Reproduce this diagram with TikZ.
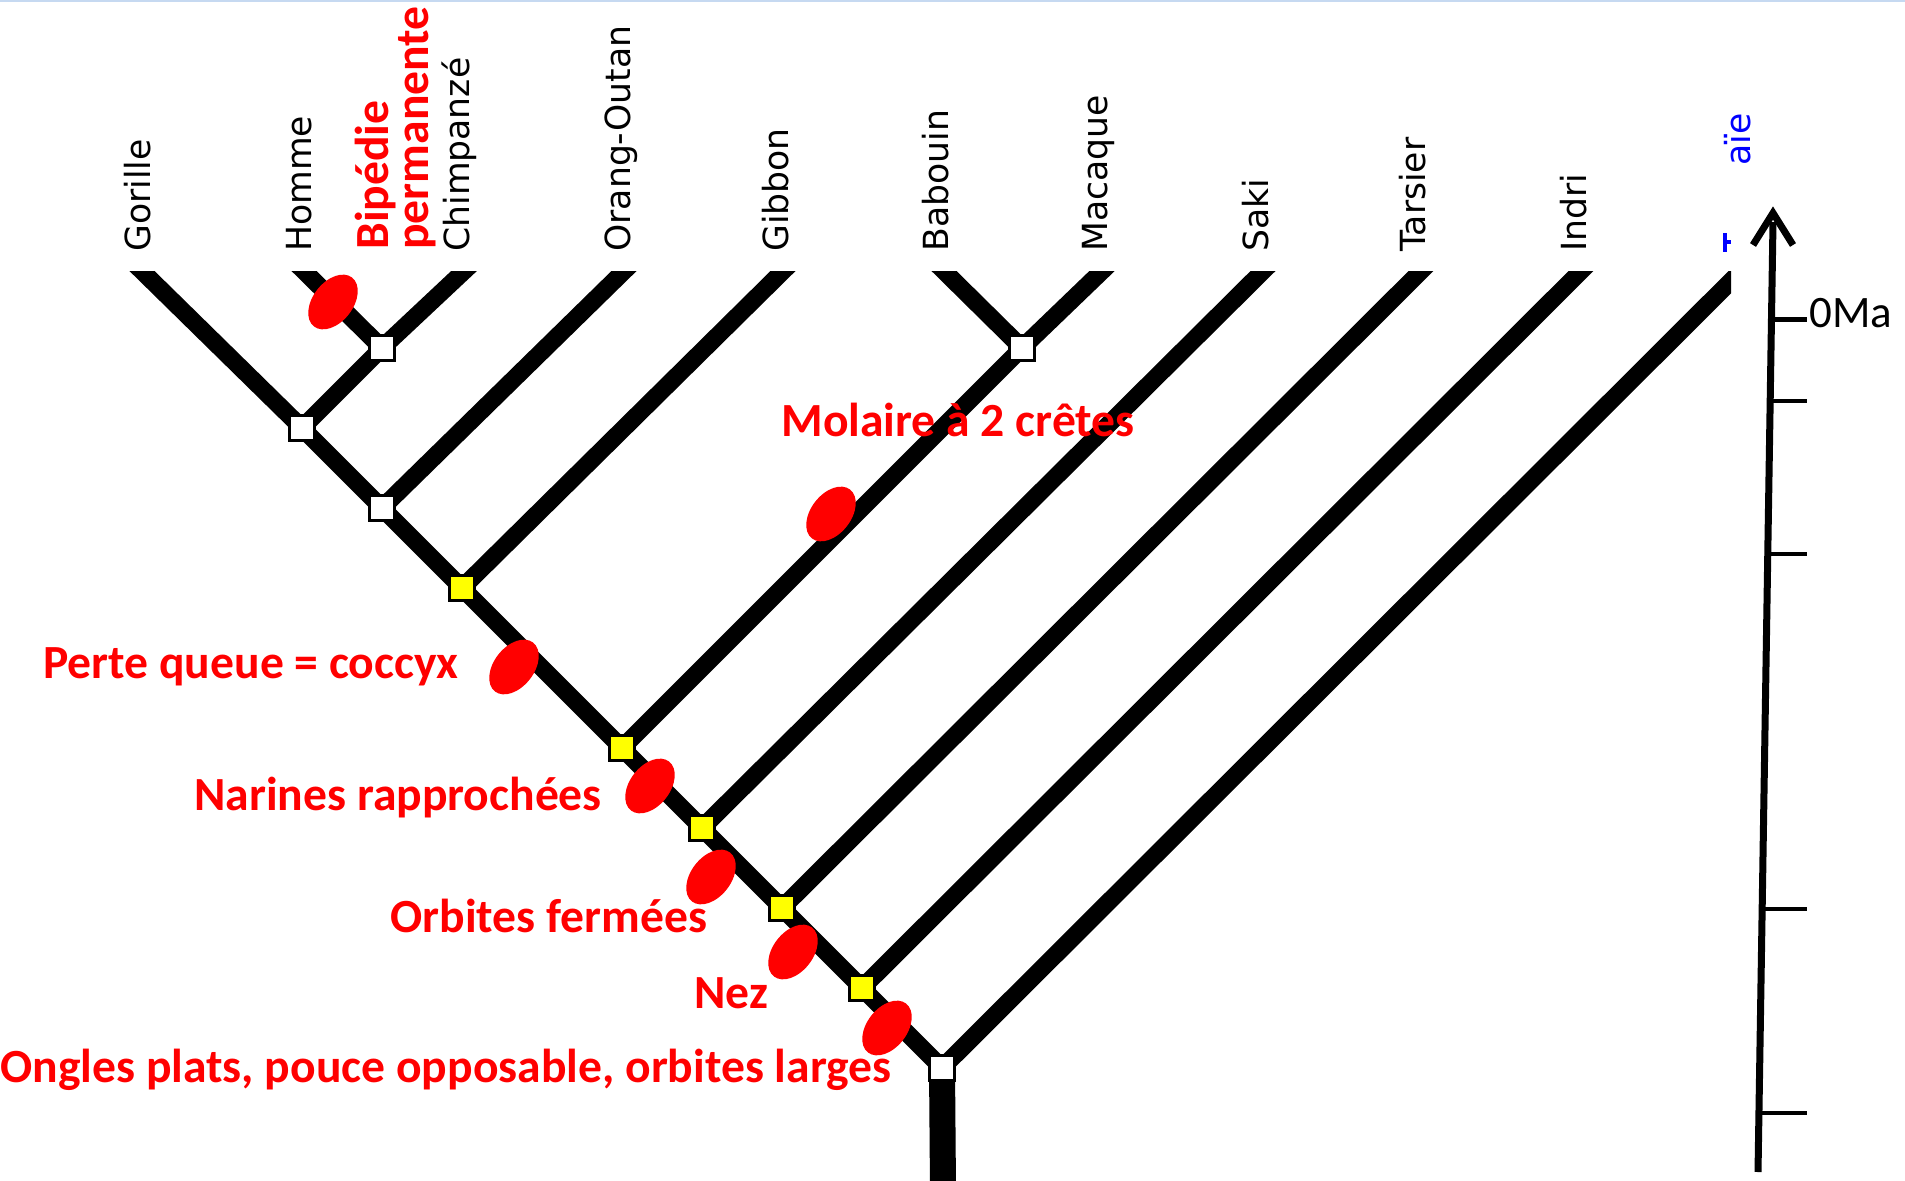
\documentclass[tikz,border=0pt]{standalone}
\usepackage{fontspec}
\newfontfamily\notefont{Carlito}
\newfontfamily\taxonfont{DejaVu Sans}
\usetikzlibrary{shapes.geometric,calc}

\definecolor{mark}{RGB}{255,0,0}
\definecolor{hilite}{RGB}{255,255,0}
\definecolor{rulecol}{RGB}{198,217,241}
\definecolor{extinct}{RGB}{0,0,255}

\begin{document}
\begin{tikzpicture}[x=0.5pt,y=-0.5pt,
  branch/.style={line width=8.8pt, black, line join=miter},
  knot/.style={rectangle, draw=black, line width=1.8pt, fill=white, minimum size=12.5pt, inner sep=0pt},
  yknot/.style={knot, fill=hilite},
  trait/.style={ellipse, fill=mark, inner sep=0pt, minimum width=31pt, minimum height=20pt, rotate=52},
  note/.style={font=\notefont\bfseries\fontsize{23.8}{24}\selectfont, text=mark, inner sep=0pt, anchor=base west},
  taxon/.style={font=\taxonfont\fontsize{17.3}{18}\selectfont, rotate=90, anchor=mid west, inner sep=0pt},
  tickline/.style={line width=2.2pt},
]
\useasboundingbox (0,0) rectangle (1905,1181);

% thin rule along the top edge
\fill[rulecol] (0,0) rectangle (1905,2.5);

% junctions of the tree
\coordinate (R)  at (942,1068);
\coordinate (In) at (862,988);
\coordinate (Ta) at (782,908);
\coordinate (Sa) at (702,828);
\coordinate (OW) at (622,748);
\coordinate (Gi) at (462,588);
\coordinate (Or) at (382,508);
\coordinate (Go) at (302,428);
\coordinate (HC) at (382,348);
\coordinate (BM) at (1022,348);
\coordinate (base) at (943,1190);

% leaf ends
\coordinate (tGor) at (143,272);
\coordinate (tHom) at (305,272);
\coordinate (tChi) at (463,272);
\coordinate (tOra) at (623,272);
\coordinate (tGib) at (782,272);
\coordinate (tBab) at (945,272);
\coordinate (tMac) at (1101,272);
\coordinate (tSak) at (1262,272);
\coordinate (tTar) at (1420,272);
\coordinate (tInd) at (1580,272);
\coordinate (tAie) at (1740,272);

% branches, cut flat at the top
\begin{scope}
  \clip (0,272) rectangle (1731,1181);
  \draw[branch, shorten >=-12pt] (R) -- (In) -- (Ta) -- (Sa) -- (OW) -- (Gi) -- (Or) -- (Go) -- (tGor);
  \draw[branch, shorten >=-12pt] (R) -- (tAie);
  \draw[branch, shorten >=-12pt] (In) -- (tInd);
  \draw[branch, shorten >=-12pt] (Ta) -- (tTar);
  \draw[branch, shorten >=-12pt] (Sa) -- (tSak);
  \draw[branch, shorten >=-12pt] (OW) -- (BM) -- (tMac);
  \draw[branch, shorten >=-12pt] (BM) -- (tBab);
  \draw[branch, shorten >=-12pt] (Gi) -- (tGib);
  \draw[branch, shorten >=-12pt] (Or) -- (tOra);
  \draw[branch, shorten >=-12pt] (Go) -- (HC) -- (tChi);
  \draw[branch, shorten >=-12pt] (HC) -- (tHom);
\end{scope}

% stem below the root
\draw[line width=13pt] (R) -- (base);

% node squares
\node[knot]  (nR)  at (R)  {};
\node[yknot] (nIn) at (In) {};
\node[yknot] (nTa) at (Ta) {};
\node[yknot] (nSa) at (Sa) {};
\node[yknot] (nOW) at (OW) {};
\node[yknot] (nGi) at (Gi) {};
\node[knot]  (nOr) at (Or) {};
\node[knot]  (nGo) at (Go) {};
\node[knot]  (nHC) at (HC) {};
\node[knot]  (nBM) at (BM) {};

% derived characters
\node[trait] (eHom) at (333,302)  {};
\node[trait] (eMol) at (831,514)  {};
\node[trait] (eQue) at (514,667)  {};
\node[trait] (eNar) at (650,786)  {};
\node[trait] (eOrb) at (711,877)  {};
\node[trait] (eNez) at (793,952)  {};
\node[trait] (eOng) at (887,1028) {};

% character names
\node[note] (lMol) at (781,437)  {Molaire à 2 crêtes};
\node[note] (lQue) at (43,678)   {Perte queue = coccyx};
\node[note] (lNar) at (194,810)  {Narines rapprochées};
\node[note] (lOrb) at (390,932)  {Orbites fermées};
\node[note] (lNez) at (694,1008) {Nez};
\node[note] (lOng) at (0,1082)   {Ongles plats, pouce opposable, orbites larges};
\node[font=\notefont\bfseries\fontsize{23.8}{16.5}\selectfont, text=mark, rotate=90,
      anchor=north west, align=left, inner sep=0pt] (lBip) at (355,250) {Bipédie\\permanente};

% taxa
\node[taxon] (sGor) at (146,252)  {Gorille};
\node[taxon] (sHom) at (307,252)  {Homme};
\node[taxon] (sChi) at (465,252)  {Chimpanzé};
\node[taxon] (sOra) at (626,252)  {Orang-Outan};
\node[taxon] (sGib) at (784,252)  {Gibbon};
\node[taxon] (sBab) at (944,252)  {Babouin};
\node[taxon] (sMac) at (1103,252) {Macaque};
\node[taxon] (sSak) at (1264,252) {Saki};
\node[taxon] (sTar) at (1421,252) {Tarsier};
\node[taxon] (sInd) at (1582,252) {Indri};
\node[taxon, text=extinct] (sAie) at (1746,166) {aïe};
\fill[extinct] (1723,233) rectangle (1727,252);
\fill[extinct] (1727,240) rectangle (1731,244);

% time axis
\coordinate (axTop) at (1773,213);
\coordinate (axShaft) at (1773,222);
\coordinate (axBot) at (1758,1172);
\coordinate (wingL) at (1753,245);
\coordinate (wingR) at (1793,245);
\draw[line width=3.5pt] (axBot) -- (axShaft);
\draw[line width=3.5pt, line join=miter] (wingL) -- (axTop) -- (wingR);

\coordinate (k0a) at (1771.3,319.5);  \coordinate (k0b) at (1807,319.5);
\coordinate (k1a) at (1770.1,401);    \coordinate (k1b) at (1807,401);
\coordinate (k2a) at (1767.7,554);    \coordinate (k2b) at (1807,554);
\coordinate (k3a) at (1762.1,909);    \coordinate (k3b) at (1807,909);
\coordinate (k4a) at (1758.9,1113);   \coordinate (k4b) at (1807,1113);
\draw[tickline] (k0a) -- (k0b);
\draw[tickline] (k1a) -- (k1b);
\draw[tickline] (k2a) -- (k2b);
\draw[tickline] (k3a) -- (k3b);
\draw[tickline] (k4a) -- (k4b);
\node[font=\notefont\fontsize{22.5}{24}\selectfont, anchor=west, inner sep=0pt] (zero) at (1809,313) {0Ma};

\end{tikzpicture}
\end{document}
